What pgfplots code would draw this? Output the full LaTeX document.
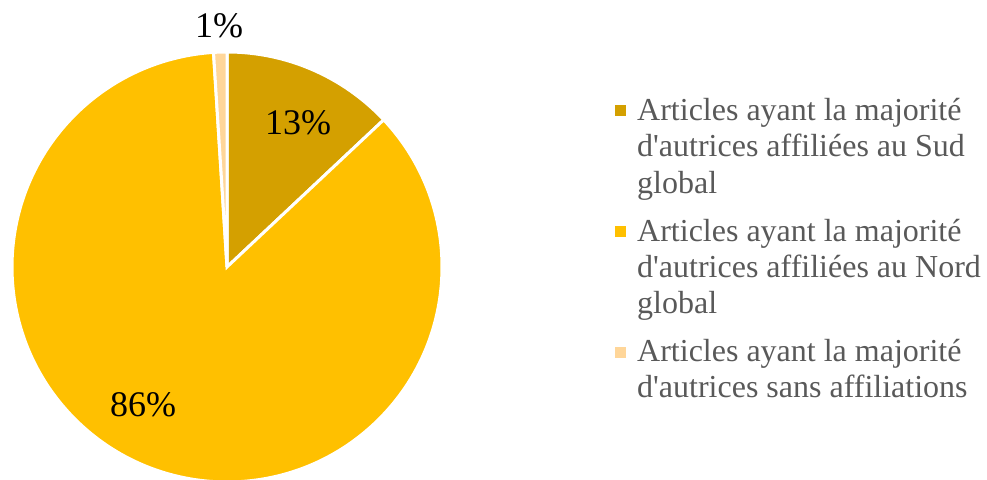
\documentclass[border=0pt]{standalone}
\usepackage{pgfplots}
\pgfplotsset{compat=1.18}
\usepackage{fontspec}
\setmainfont{Liberation Serif}[Ligatures=TeXOff]
\definecolor{cA}{RGB}{212,160,0}
\definecolor{cB}{RGB}{255,192,0}
\definecolor{cC}{RGB}{255,214,153}
\definecolor{txt}{RGB}{89,89,89}
\begin{document}
\begin{tikzpicture}
\begin{axis}[width=987bp,height=480bp,scale only axis,hide axis,
  xmin=0,xmax=987,ymin=0,ymax=480,clip=true]
% values: 13, 86, 1 (percent), clockwise from top
\fill[cA,draw=white,line width=3bp] (axis cs:227,213) -- ++(90:215bp)
  arc[start angle=90,end angle={90-13*3.6},radius=215bp] -- cycle;
\fill[cB,draw=white,line width=3bp] (axis cs:227,213) -- ++({90-13*3.6}:215bp)
  arc[start angle={90-13*3.6},end angle={90-99*3.6},radius=215bp] -- cycle;
\fill[cC,draw=white,line width=3bp] (axis cs:227,213) -- ++({90-99*3.6}:215bp)
  arc[start angle={90-99*3.6},end angle={90-100*3.6},radius=215bp] -- cycle;
\node[font=\fontsize{36bp}{40bp}\selectfont] at (axis cs:298,357) {13\%};
\node[font=\fontsize{36bp}{40bp}\selectfont] at (axis cs:143,75) {86\%};
\node[font=\fontsize{36bp}{40bp}\selectfont] at (axis cs:219,454) {1\%};
% legend
\fill[cA] (axis cs:615,364) rectangle (axis cs:626,375);
\fill[cB] (axis cs:615,243) rectangle (axis cs:626,254);
\fill[cC] (axis cs:615,122) rectangle (axis cs:626,133);
\begin{scope}[every node/.style={anchor=base west,inner sep=0pt,text=txt,font=\fontsize{32bp}{36.5bp}\selectfont}]
\node at (axis cs:637,359) {Articles ayant la majorité};
\node at (axis cs:637,323) {d'autrices affiliées au Sud};
\node at (axis cs:637,286) {global};
\node at (axis cs:637,238) {Articles ayant la majorité};
\node at (axis cs:637,202) {d'autrices affiliées au Nord};
\node at (axis cs:637,166) {global};
\node at (axis cs:637,118) {Articles ayant la majorité};
\node at (axis cs:637,82) {d'autrices sans affiliations};
\end{scope}
\end{axis}
\pgfresetboundingbox
\path[use as bounding box] (current axis.south west) rectangle (current axis.north east);
\end{tikzpicture}
\end{document}
